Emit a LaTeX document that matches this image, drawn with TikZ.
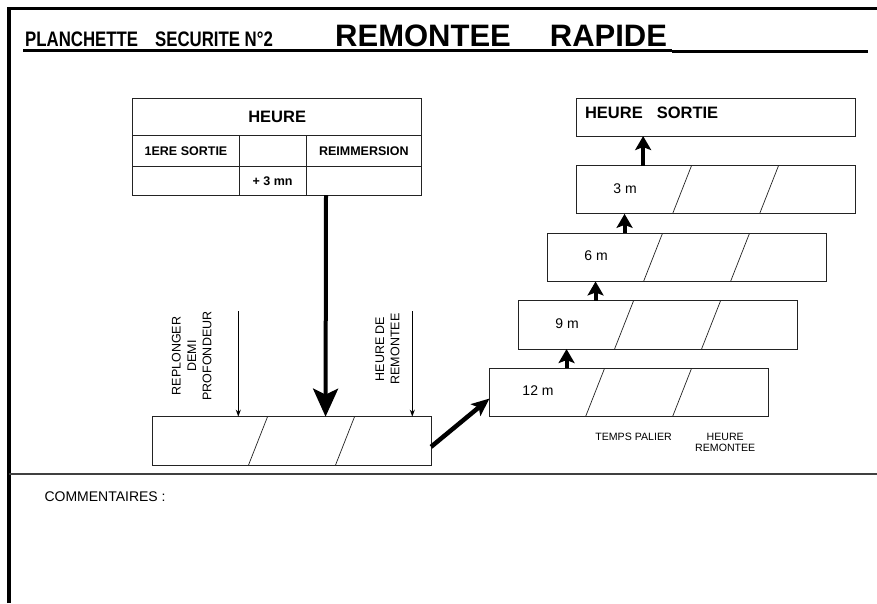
\documentclass[tikz,border=0pt]{standalone}
\usepackage{fontspec}
\setmainfont{Liberation Sans}
\newfontfamily\narrowfont[FakeStretch=0.8]{Liberation Sans}
\usetikzlibrary{arrows.meta,positioning,calc}
\definecolor{linegray}{RGB}{35,35,35}

\begin{document}
\begin{tikzpicture}[
  x=1pt,y=-1pt,
  >=Stealth,
  cell/.style={draw=linegray,line width=.9pt,inner sep=0pt,outer sep=0pt,font=\bfseries\fontsize{12.5}{14}\selectfont},
  stage/.style={draw=linegray,line width=.9pt,minimum width=278.5pt,minimum height=48.3pt,inner sep=0pt,outer sep=0pt},
  slash/.style={draw=linegray,line width=.7pt},
  lab/.style={inner sep=0pt,font=\fontsize{14}{16}\selectfont},
  small/.style={inner sep=0pt,align=center,font=\fontsize{10.6}{11.7}\selectfont},
  side/.style={inner sep=0pt,align=center,rotate=90,font=\fontsize{12.5}{15.3}\selectfont},
  tick/.style={-{Stealth[length=7pt,width=5pt]},line width=1pt},
  uparrow/.style={-{Stealth[length=14pt,width=16pt,inset=3pt]},line width=4pt},
  bigarrow/.style={-{Stealth[length=28pt,width=25pt,inset=6pt]},line width=4pt},
  diagarrow/.style={-{Stealth[length=18pt,width=15pt,inset=4pt]},line width=4.5pt}
]
\fill[white] (0,0) rectangle (877,603);
\useasboundingbox (0,0) rectangle (877,603);
% frame and title
\draw[line width=3.5pt,line join=miter] (8.8,603) |- (877,8.5);
\draw[line width=2pt,black!75] (8.8,473.7) -- (877,473.7);
\node[anchor=base west,inner sep=0pt,font=\narrowfont\bfseries\fontsize{21}{24}\selectfont] (planchette) at (25,46.7)
  {PLANCHETTE\hspace{17pt}SECURITE N°2};
\node[anchor=base west,inner sep=0pt,font=\bfseries\fontsize{31}{34}\selectfont] (titre) at (335,46.7)
  {REMONTEE\hspace{39pt}RAPIDE};
\draw[line width=2.5pt] (23,50.5) -- (672,50.5);
\draw[line width=3.5pt] (672,51.5) -- (868,51.5);
% heure table
\node[cell,minimum width=289pt,minimum height=37pt,font=\bfseries\fontsize{16.5}{18}\selectfont] (hdr) at (277.2,116.5) {HEURE};
\node[cell,minimum width=106.6pt,minimum height=31.7pt,below right=0pt of hdr.south west] (c1) {1ERE SORTIE};
\node[cell,minimum width=66.7pt,minimum height=31.7pt,right=0pt of c1] (c2) {};
\node[cell,minimum width=115.7pt,minimum height=31.7pt,right=0pt of c2] (c3) {REIMMERSION};
\node[cell,minimum width=106.6pt,minimum height=28.3pt,below=0pt of c1] (c4) {};
\node[cell,minimum width=66.7pt,minimum height=28.3pt,below=0pt of c2] (c5) {+ 3 mn};
\node[cell,minimum width=115.7pt,minimum height=28.3pt,below=0pt of c3] (c6) {};
% stages
\node[stage] (plongee) at (291.8,440.8) {};
\foreach \d/\k in {12/0,9/1,6/2,3/3} {
  \node[stage] (pal\d) at (628.8+29*\k,392.5-67.6*\k) {};
  \node[lab] (lab\d) at ($(pal\d.west)+(48.5,-1.5)$) {\d~m};
}
\foreach \b in {plongee,pal12,pal9,pal6,pal3} {
  \draw[slash] ($(\b.north west)+(115,0)$) -- ($(\b.south west)+(96,0)$);
  \draw[slash] ($(\b.north west)+(202,0)$) -- ($(\b.south west)+(183,0)$);
}
\node[stage,minimum height=37.7pt] (sortie) at (715.8,117.2) {};
\node[anchor=west,inner sep=0pt,font=\bfseries\fontsize{16.5}{18}\selectfont] (sortielab) at ($(sortie.north west)+(8.3,14.5)$)
  {HEURE\hspace{14pt}SORTIE};
% labels
\node[side] (replonger) at (191.7,356) {REPLONGER\\DEMI\\PROFONDEUR};
\node[side] (heurede) at (387.5,349) {HEURE DE\\REMONTEE};
\node[small,anchor=north] (temps) at ($(pal12.south west)+(144,16)$) {TEMPS PALIER};
\node[small,anchor=north] (heurerem) at ($(pal12.south west)+(235.7,16)$) {HEURE\\REMONTEE};
\node[lab,anchor=west] (comment) at (44.3,496.7) {COMMENTAIRES :};
% arrows
\coordinate (t1) at (238.3,311);
\coordinate (t2) at (412.3,311);
\draw[tick] (t1) -- (t1 |- plongee.north);
\draw[tick] (t2) -- (t2 |- plongee.north);
\draw[bigarrow] ($(c6.south west)+(20,0)$) -- ($(plongee.north west)+(173,0)$);
\draw[diagarrow] ($(plongee.east)+(0,6)$) -- ($(pal12.west)+(0,6)$);
\foreach \a/\b in {12/9,9/6,6/3} {
  \coordinate (u\a) at ($(pal\a.north west)+(77,0)$);
  \draw[uparrow] (u\a) -- (u\a |- pal\b.south);
}
\coordinate (u3) at ($(pal3.north west)+(66.6,0)$);
\draw[uparrow] (u3) -- (u3 |- sortie.south);
\end{tikzpicture}
\end{document}
